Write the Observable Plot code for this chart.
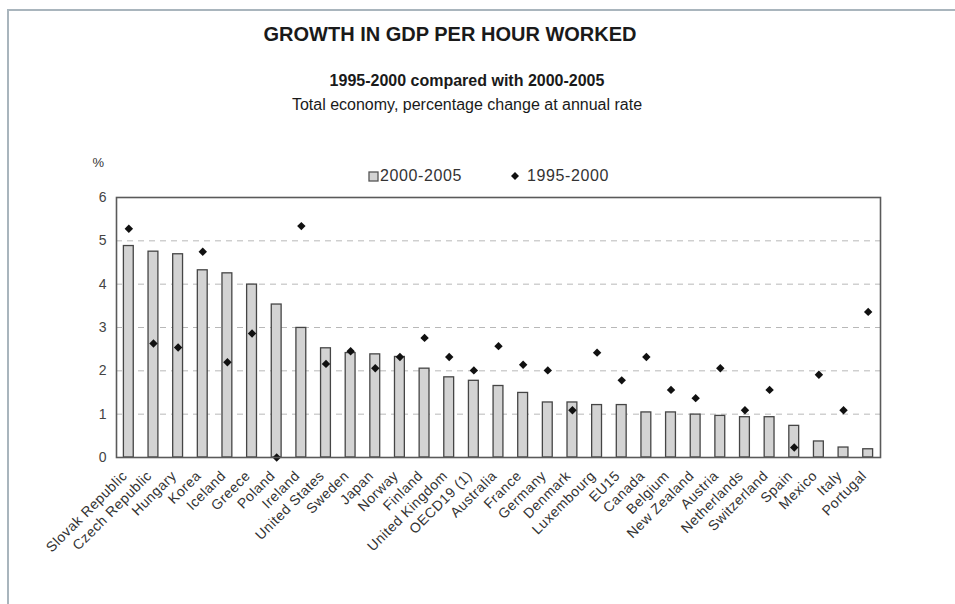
<!DOCTYPE html>
<html>
<head>
<meta charset="utf-8">
<script src="https://cdn.jsdelivr.net/npm/d3@7"></script>
<script src="https://cdn.jsdelivr.net/npm/@observablehq/plot@0.6"></script>
<style>
  html, body { margin: 0; padding: 0; background: #fff; }
  #page { position: relative; width: 955px; height: 604px; overflow: hidden; background: #fff;
          font-family: "Liberation Sans", Arial, sans-serif; color: #1a1a1a; }
  #border { position: absolute; left: 7px; top: 9px; width: 960px; height: 620px;
            border-top: 2.5px solid #a9b5bd; border-left: 2.5px solid #a9b5bd; }
  .t { position: absolute; white-space: nowrap; transform: translateX(-50%); }
  #title { left: 450px; top: 24px; font-size: 20px; line-height: 20px; font-weight: bold; }
  #sub1 { left: 467px; top: 73px; font-size: 16px; line-height: 16px; font-weight: bold; }
  #sub2 { left: 467px; top: 97px; font-size: 16px; line-height: 16px; }
  #legend { position: absolute; top: 168px; left: 0; width: 955px; height: 18px; font-size: 16px; line-height: 16px; color: #333; }
  .lg { position: absolute; white-space: nowrap; letter-spacing: 0.6px; }
  .lg svg { position: absolute; }
  #chart { position: absolute; left: 0; top: 150px; }
</style>
</head>
<body>
<div id="page">
  <div id="border"></div>
  <div class="t" id="title"></div>
  <div class="t" id="sub1"></div>
  <div class="t" id="sub2"></div>
  <div id="legend"></div>
  <div id="chart"></div>
</div>
<script>
const titleText = "GROWTH IN GDP PER HOUR WORKED";
const subtitleText = "1995-2000 compared with 2000-2005";
const subtitle2Text = "Total economy, percentage change at annual rate";
const unitLabel = "%";

const categories = ["Slovak Republic","Czech Republic","Hungary","Korea","Iceland","Greece","Poland","Ireland",
  "United States","Sweden","Japan","Norway","Finland","United Kingdom","OECD19 (1)","Australia","France",
  "Germany","Denmark","Luxembourg","EU15","Canada","Belgium","New Zealand","Austria","Netherlands",
  "Switzerland","Spain","Mexico","Italy","Portugal"];

// 2000-2005 (bars)
const growth2000_2005 = [4.88,4.75,4.69,4.32,4.25,3.99,3.53,2.99,2.52,2.41,2.38,2.32,2.05,1.85,1.77,1.65,1.49,
  1.27,1.27,1.21,1.21,1.04,1.04,0.99,0.96,0.93,0.93,0.73,0.37,0.23,0.19];
// 1995-2000 (diamonds)
const growth1995_2000 = [5.28,2.63,2.54,4.75,2.20,2.86,0.00,5.34,2.16,2.45,2.06,2.32,2.76,2.32,2.01,2.57,2.14,
  2.01,1.09,2.42,1.78,2.32,1.56,1.37,2.06,1.09,1.56,0.23,1.91,1.09,3.36];

const seriesLabels = ["2000-2005", "1995-2000"];
const yTicks = [0, 1, 2, 3, 4, 5, 6];
const gridValues = [1, 2, 3, 4, 5];

document.getElementById("title").textContent = titleText;
document.getElementById("sub1").textContent = subtitleText;
document.getElementById("sub2").textContent = subtitle2Text;

// legend
const legend = document.getElementById("legend");
const lg1 = document.createElement("div");
lg1.className = "lg"; lg1.style.left = "380px"; lg1.style.top = "0px";
lg1.innerHTML = '<svg width="12" height="12" style="left:-12px;top:3px"><rect x="1" y="1" width="9" height="9" fill="#d3d3d3" stroke="#555" stroke-width="1.3"/></svg>';
lg1.appendChild(document.createTextNode(seriesLabels[0]));
legend.appendChild(lg1);
const lg2 = document.createElement("div");
lg2.className = "lg"; lg2.style.left = "527px"; lg2.style.top = "0px";
lg2.innerHTML = '<svg width="12" height="12" style="left:-17px;top:3px"><path d="M5,1L9,5L5,9L1,5Z" fill="#111"/></svg>';
lg2.appendChild(document.createTextNode(seriesLabels[1]));
legend.appendChild(lg2);

const data = categories.map((c, i) => ({country: c, v2005: growth2000_2005[i], v2000: growth1995_2000[i]}));

const chart = Plot.plot({
  width: 955,
  height: 454,
  marginTop: 47,
  marginBottom: 147,
  marginLeft: 116,
  marginRight: 75,
  style: {fontFamily: "'Liberation Sans', Arial, sans-serif", fontSize: "14px", color: "#333", background: "transparent", overflow: "visible"},
  x: {domain: categories, paddingInner: 0.6, paddingOuter: 0.3, round: false, tickRotate: -45, tickSize: 0, tickPadding: 10, label: null},
  y: {domain: [0, 6], ticks: yTicks, tickFormat: d3.format("d"), tickSize: 0, tickPadding: 10, label: null},
  marks: [
    Plot.ruleY(gridValues, {stroke: "#b8b8b8", strokeDasharray: "6,5", strokeWidth: 1}),
    Plot.barY(data, {x: "country", y: "v2005", fill: "#d3d3d3", stroke: "#454545", strokeWidth: 1.3}),
    Plot.dot(data, {x: "country", y: "v2000", symbol: "diamond2", r: 3.8, fill: "#111", stroke: "none"}),
    Plot.frame({stroke: "#5a5a5a", strokeWidth: 1.6}),
    Plot.text([unitLabel], {frameAnchor: "top-left", dx: -24, dy: -40, fontSize: 13, fill: "#333"})
  ]
});
document.getElementById("chart").appendChild(chart);

// y tick labels gray, x labels letter-spaced and nudged down-left like the original
d3.select(chart).selectAll("g[aria-label^='y-axis'] text").attr("fill", "#444");
d3.select(chart).selectAll("g[aria-label^='x-axis']")
  .attr("transform", function() { return (this.getAttribute("transform") || "") + " translate(-4,6)"; });
d3.select(chart).selectAll("g[aria-label^='x-axis'] text").attr("letter-spacing", "0.5px").attr("fill", "#333");
</script>
</body>
</html>
